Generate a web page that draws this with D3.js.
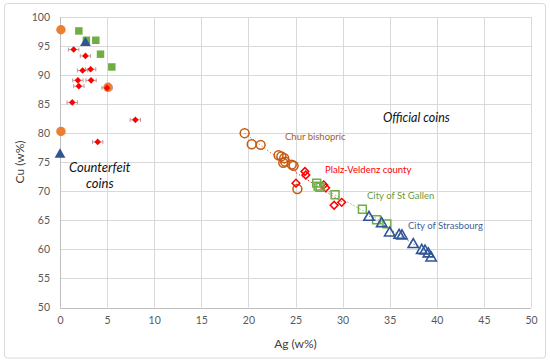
<!DOCTYPE html>
<html><head><meta charset="utf-8">
<script src="https://cdn.jsdelivr.net/npm/d3@7"></script>
<style>
html,body{margin:0;padding:0;background:#fff;}
svg{display:block;font-family:Lato,"Open Sans",sans-serif;}
</style></head>
<body>
<svg id="c" width="550" height="363"></svg>
<script>
// ---- data ----
const xTicks = [0,5,10,15,20,25,30,35,40,45,50];
const yTicks = [50,55,60,65,70,75,80,85,90,95,100];

// counterfeit coins (filled markers)
const cfOrangeAg = [0.1, 0.1, 5.1];
const cfOrangeCu = [97.8, 80.3, 87.9];
const cfGreenAg = [2.0, 2.8, 3.8, 4.3, 5.5];
const cfGreenCu = [97.6, 96.0, 96.0, 93.6, 91.4];
const cfBlueAg = [2.7, 0.0];
const cfBlueCu = [95.7, 76.5];
const cfRedAg = [1.45, 2.7, 2.4, 3.25, 1.9, 3.3, 2.0, 5.0, 1.3, 8.0, 4.0];
const cfRedCu = [94.4, 93.3, 90.8, 91.0, 89.1, 89.1, 88.1, 87.8, 85.3, 82.3, 78.5];
const cfRedErrAg = 0.55;
const cfRedErrCu = 0.25;

// official coins (open markers)
const churAg = [19.6, 20.35, 21.3, 23.2, 23.5, 23.8, 23.9, 23.7, 24.6, 24.8, 25.2];
const churCu = [80.0, 78.1, 78.0, 76.2, 76.0, 75.7, 75.1, 74.9, 74.6, 74.4, 70.4];
const pfalzAg = [26.0, 26.1, 25.05, 28.0, 28.2, 29.1, 29.9];
const pfalzCu = [73.4, 72.8, 71.4, 71.1, 70.6, 67.6, 68.1];
const gallenAg = [27.25, 27.4, 27.6, 29.2, 32.1, 33.6, 34.7];
const gallenCu = [71.4, 70.9, 70.7, 69.4, 66.9, 65.1, 64.4];
const strasAg = [32.8, 34.15, 35.0, 36.0, 36.3, 37.5, 38.4, 38.75, 39.1, 39.4];
const strasCu = [65.7, 64.6, 63.0, 62.6, 62.5, 61.0, 60.0, 59.9, 59.4, 58.7];

const zip = (a,b)=>a.map((v,i)=>[v,b[i]]);

// ---- layout ----
const svg = d3.select("#c");
const L=60, R=531, T=17, B=307.5;
const x = d3.scaleLinear().domain([0,50]).range([L,R]);
const y = d3.scaleLinear().domain([50,100]).range([B,T]);

svg.append("rect").attr("x",4.5).attr("y",3.5).attr("width",541).attr("height",354.5)
  .attr("rx",3).attr("fill","#fff").attr("stroke","#d9d9d9").attr("stroke-width",1);

// gridlines
const g = svg.append("g");
g.selectAll(".vg").data(xTicks).join("line")
  .attr("x1",d=>Math.round(x(d))+0.5).attr("x2",d=>Math.round(x(d))+0.5)
  .attr("y1",T).attr("y2",B).attr("stroke","#d9d9d9").attr("stroke-width",1);
g.selectAll(".hg").data(yTicks).join("line")
  .attr("y1",d=>Math.round(y(d))+0.5).attr("y2",d=>Math.round(y(d))+0.5)
  .attr("x1",L).attr("x2",R).attr("stroke","#d9d9d9").attr("stroke-width",1);
// axis lines
svg.append("line").attr("x1",L).attr("x2",R).attr("y1",Math.round(B)+0.5).attr("y2",Math.round(B)+0.5).attr("stroke","#bfbfbf");
svg.append("line").attr("x1",L+0.5).attr("x2",L+0.5).attr("y1",T).attr("y2",B).attr("stroke","#bfbfbf");

// axes via d3
const xAxis = d3.axisBottom(x).tickValues(xTicks).tickSize(0).tickPadding(9);
const yAxis = d3.axisLeft(y).tickValues(yTicks).tickSize(0).tickPadding(10);
const gx = svg.append("g").attr("transform",`translate(0,${B})`).call(xAxis);
const gy = svg.append("g").attr("transform",`translate(${L},0)`).call(yAxis);
[gx,gy].forEach(a=>{
  a.select(".domain").remove();
  a.selectAll("text").attr("fill","#595959").style("font-size","10.5px").style("font-family","Lato,'Open Sans',sans-serif");
});

svg.append("text").attr("x",(L+R)/2).attr("y",348).attr("text-anchor","middle")
  .attr("fill","#404040").style("font-size","12px").text("Ag (w%)");
svg.append("text").attr("transform","translate(24,162) rotate(-90)").attr("text-anchor","middle")
  .attr("fill","#404040").style("font-size","12px").text("Cu (w%)");

// trend lines (dotted, linear fit per series)
function trend(ax, ay, col){
  const n=ax.length, mx=d3.mean(ax), my=d3.mean(ay);
  let sxy=0,sxx=0; for(let i=0;i<n;i++){sxy+=(ax[i]-mx)*(ay[i]-my); sxx+=(ax[i]-mx)**2;}
  const b=sxy/sxx, a=my-b*mx;
  const x0=d3.min(ax), x1=d3.max(ax);
  svg.append("line").attr("x1",x(x0)).attr("y1",y(a+b*x0)).attr("x2",x(x1)).attr("y2",y(a+b*x1))
    .attr("stroke",col).attr("stroke-width",1).attr("stroke-dasharray","1.5,2").attr("opacity",0.8);
}
const cChur="#c55a11", cPfalz="#ff0000", cGallen="#70ad47", cStras="#2f5597";
trend(churAg,churCu,cChur);
trend(pfalzAg,pfalzCu,cPfalz);
trend(gallenAg,gallenCu,cGallen);
trend(strasAg,strasCu,cStras);

const sym = (type,size)=>d3.symbol().type(type).size(size)();

// official open markers
svg.append("g").selectAll("path").data(zip(churAg,churCu)).join("path")
  .attr("transform",d=>`translate(${x(d[0])},${y(d[1])})`).attr("d",sym(d3.symbolCircle,62))
  .attr("fill","none").attr("stroke",cChur).attr("stroke-width",1.5);
svg.append("g").selectAll("path").data(zip(pfalzAg,pfalzCu)).join("path")
  .attr("transform",d=>`translate(${x(d[0])},${y(d[1])}) rotate(45)`).attr("d",sym(d3.symbolSquare,30))
  .attr("fill","none").attr("stroke",cPfalz).attr("stroke-width",1.5);
svg.append("g").selectAll("path").data(zip(gallenAg,gallenCu)).join("path")
  .attr("transform",d=>`translate(${x(d[0])},${y(d[1])})`).attr("d",sym(d3.symbolSquare,62))
  .attr("fill","none").attr("stroke",cGallen).attr("stroke-width",1.5);
svg.append("g").selectAll("path").data(zip(strasAg,strasCu)).join("path")
  .attr("transform",d=>`translate(${x(d[0])},${y(d[1])+1})`).attr("d",sym(d3.symbolTriangle,46))
  .attr("fill","none").attr("stroke",cStras).attr("stroke-width",1.6);

// counterfeit filled markers
svg.append("g").selectAll("path").data(zip(cfGreenAg,cfGreenCu)).join("path")
  .attr("transform",d=>`translate(${x(d[0])},${y(d[1])})`).attr("d",sym(d3.symbolSquare,56))
  .attr("fill","#70ad47");
svg.append("g").selectAll("path").data(zip(cfOrangeAg,cfOrangeCu)).join("path")
  .attr("transform",d=>`translate(${x(d[0])},${y(d[1])})`).attr("d",sym(d3.symbolCircle,70))
  .attr("fill","#ed7d31");
svg.append("g").selectAll("path").data(zip(cfBlueAg,cfBlueCu)).join("path")
  .attr("transform",d=>`translate(${x(d[0])},${y(d[1])+1})`).attr("d",sym(d3.symbolTriangle,50))
  .attr("fill","#2f5597");
// red diamonds with error bars
const eb = svg.append("g").attr("stroke","#c09a9a").attr("stroke-width",1);
zip(cfRedAg,cfRedCu).forEach(d=>{
  const cx=x(d[0]), cy=y(d[1]);
  const xl=x(d[0]-cfRedErrAg), xr=x(d[0]+cfRedErrAg);
  const yt=y(d[1]+cfRedErrCu), yb=y(d[1]-cfRedErrCu);
  eb.append("line").attr("x1",xl).attr("x2",xr).attr("y1",cy).attr("y2",cy);
  eb.append("line").attr("x1",xl).attr("x2",xl).attr("y1",cy-2).attr("y2",cy+2);
  eb.append("line").attr("x1",xr).attr("x2",xr).attr("y1",cy-2).attr("y2",cy+2);
  eb.append("line").attr("x1",cx).attr("x2",cx).attr("y1",yt).attr("y2",yb);
});
svg.append("g").selectAll("path").data(zip(cfRedAg,cfRedCu)).join("path")
  .attr("transform",d=>`translate(${x(d[0])},${y(d[1])}) rotate(45)`).attr("d",sym(d3.symbolSquare,22))
  .attr("fill","#ff0000");

// annotations
const ann = (tx,ty,txt,col,sz,it)=>svg.append("text").attr("x",tx).attr("y",ty).attr("fill",col)
  .style("font-size",sz+"px").style("font-style",it?"italic":"normal").text(txt);
ann(285,140,"Chur bishopric","#a5602a",9.5,false);
ann(325,173,"Plalz-Veldenz county","#ff0000",9.5,false);
ann(367,199,"City of St Gallen","#6a9a3c",9.5,false);
ann(408,229,"City of Strasbourg","#3c5f9b",9.5,false);
ann(383,122,"Official coins","#111",12.5,true);
ann(69,172,"Counterfeit","#111",13,true);
ann(86,188,"coins","#111",13,true);
</script>
</body></html>
